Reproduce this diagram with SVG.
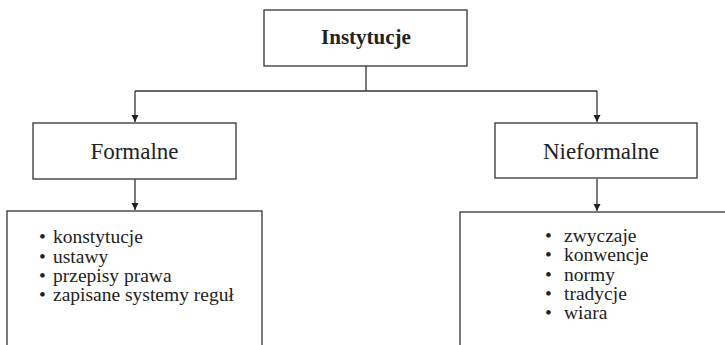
<svg xmlns="http://www.w3.org/2000/svg" width="725" height="345" viewBox="0 0 725 345">
<style>
.box{fill:#fff;stroke:#333;stroke-width:1.3}
.ln{fill:none;stroke:#333;stroke-width:1.3}
.t{font-family:"Liberation Serif","Times New Roman",serif;fill:#222}
.h{font-size:23px;text-anchor:middle}
.hb{font-size:21px;text-anchor:middle;font-weight:bold}
.b{font-size:19.5px}
</style>
<defs>
<marker id="arr" viewBox="0 0 10 10" refX="10" refY="5" markerWidth="7" markerHeight="9" markerUnits="userSpaceOnUse" orient="auto">
<path d="M0,0 L10,5 L0,10 z" fill="#222"/>
</marker>
</defs>
<g id="connectors">
<path class="ln" d="M366,66 V91"/>
<path class="ln" d="M135,91 H597"/>
<path class="ln" d="M135,91 V122" marker-end="url(#arr)"/>
<path class="ln" d="M597,91 V122" marker-end="url(#arr)"/>
<path class="ln" d="M135,179 V210" marker-end="url(#arr)"/>
<path class="ln" d="M597,179 V211" marker-end="url(#arr)"/>
</g>
<g id="instytucje">
<rect class="box" x="264" y="10" width="203" height="56"/>
<text class="t hb" x="366" y="44">Instytucje</text>
</g>
<g id="formalne">
<rect class="box" x="33" y="123" width="203" height="56"/>
<text class="t h" x="134.5" y="159">Formalne</text>
</g>
<g id="nieformalne">
<rect class="box" x="495" y="123" width="202" height="55"/>
<text class="t h" x="601" y="159">Nieformalne</text>
</g>
<g id="formalne-lista">
<rect class="box" x="7" y="211" width="255" height="150"/>
<text class="t b"><tspan x="39" y="243">•</tspan><tspan x="53" y="243">konstytucje</tspan><tspan x="39" y="263">•</tspan><tspan x="53" y="263">ustawy</tspan><tspan x="39" y="282">•</tspan><tspan x="53" y="282">przepisy prawa</tspan><tspan x="39" y="301">•</tspan><tspan x="53" y="301">zapisane systemy reguł</tspan></text>
</g>
<g id="nieformalne-lista">
<rect class="box" x="460" y="212" width="280" height="150"/>
<text class="t b"><tspan x="545" y="242">•</tspan><tspan x="564" y="242">zwyczaje</tspan><tspan x="545" y="261">•</tspan><tspan x="564" y="261">konwencje</tspan><tspan x="545" y="281">•</tspan><tspan x="564" y="281">normy</tspan><tspan x="545" y="300">•</tspan><tspan x="564" y="300">tradycje</tspan><tspan x="545" y="319">•</tspan><tspan x="564" y="319">wiara</tspan></text>
</g>
</svg>
